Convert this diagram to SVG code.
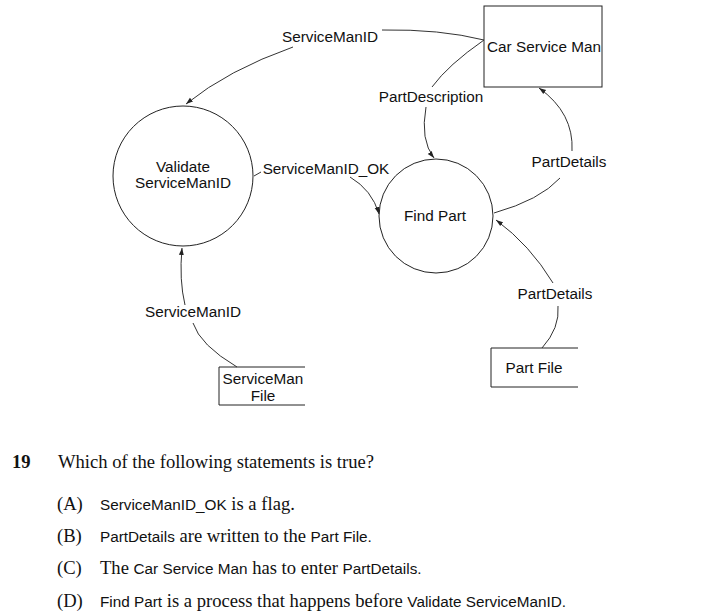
<svg xmlns="http://www.w3.org/2000/svg" width="720" height="615" viewBox="0 0 720 615">
<style>
.s{font-family:"Liberation Sans",Arial,sans-serif;font-size:15.3px;fill:#111}
.t{font-family:"Liberation Serif","Times New Roman",serif;font-size:18.6px;fill:#111}
.q .s{font-size:15.3px}
.n{fill:none;stroke:#222;stroke-width:1}
.c{fill:none;stroke:#333;stroke-width:1}
</style>
<defs>
<marker id="ah" viewBox="0 0 10 10" refX="10" refY="5" markerWidth="7" markerHeight="7" markerUnits="userSpaceOnUse" orient="auto">
<path d="M0,1.5 L10,5 L0,8.5 z" fill="#222"/>
</marker>
</defs>
<rect width="720" height="615" fill="#fff"/>
<g id="car-service-man">
<rect class="n" x="484" y="6" width="118" height="81"/>
<text class="s" x="544" y="52" text-anchor="middle">Car Service Man</text>
</g>
<g id="validate">
<circle class="n" cx="183" cy="176" r="70"/>
<text class="s" x="183" y="172" text-anchor="middle">Validate</text>
<text class="s" x="183" y="188" text-anchor="middle">ServiceManID</text>
</g>
<g id="find-part">
<circle class="n" cx="436" cy="216" r="57"/>
<text class="s" x="435" y="221" text-anchor="middle">Find Part</text>
</g>
<g id="serviceman-file">
<path class="n" d="M305,367 H219 V405 H305"/>
<text class="s" x="263" y="384" text-anchor="middle">ServiceMan</text>
<text class="s" x="263" y="401" text-anchor="middle">File</text>
</g>
<g id="part-file">
<path class="n" d="M578,348 H491 V387 H578"/>
<text class="s" x="534" y="373" text-anchor="middle">Part File</text>
</g>
<g id="connectors">
<path class="c" d="M484,40 Q440,29 382,30"/>
<path class="c" d="M293,47 Q228,70 186,104" marker-end="url(#ah)"/>
<path class="c" d="M484,40 Q448,65 432,87"/>
<path class="c" d="M426,107 Q420,140 434,158" marker-end="url(#ah)"/>
<path class="c" d="M254,176 L261,172"/>
<path class="c" d="M350,177 Q372,190 379,214" marker-end="url(#ah)"/>
<path class="c" d="M494,213 Q540,200 560,178"/>
<path class="c" d="M572,151 Q574,113 539,88" marker-end="url(#ah)"/>
<path class="c" d="M542,348 Q560,328 558,306"/>
<path class="c" d="M553,283 Q530,245 496,220" marker-end="url(#ah)"/>
<path class="c" d="M237,367 Q200,345 193,323"/>
<path class="c" d="M185,305 Q179,280 182,248" marker-end="url(#ah)"/>
<text class="s" x="330" y="42" text-anchor="middle">ServiceManID</text>
<text class="s" x="431" y="102" text-anchor="middle">PartDescription</text>
<text class="s" x="326" y="174" text-anchor="middle">ServiceManID_OK</text>
<text class="s" x="569" y="167" text-anchor="middle">PartDetails</text>
<text class="s" x="555" y="299" text-anchor="middle">PartDetails</text>
<text class="s" x="193" y="317" text-anchor="middle">ServiceManID</text>
</g>
<g id="question" class="q">
<text class="t" x="12" y="468" font-weight="bold">19</text>
<text class="t" x="58" y="468">Which of the following statements is true?</text>
<text class="t" x="57" y="510">(A)</text>
<text class="t" x="100" y="510"><tspan class="s">ServiceManID_OK</tspan> is a flag.</text>
<text class="t" x="57" y="542">(B)</text>
<text class="t" x="100" y="542"><tspan class="s">PartDetails</tspan> are written to the <tspan class="s">Part File.</tspan></text>
<text class="t" x="57" y="574">(C)</text>
<text class="t" x="100" y="574">The <tspan class="s">Car Service Man</tspan> has to enter <tspan class="s">PartDetails.</tspan></text>
<text class="t" x="57" y="607">(D)</text>
<text class="t" x="100" y="607"><tspan class="s">Find Part</tspan> is a process that happens before <tspan class="s">Validate ServiceManID.</tspan></text>
</g>
</svg>
